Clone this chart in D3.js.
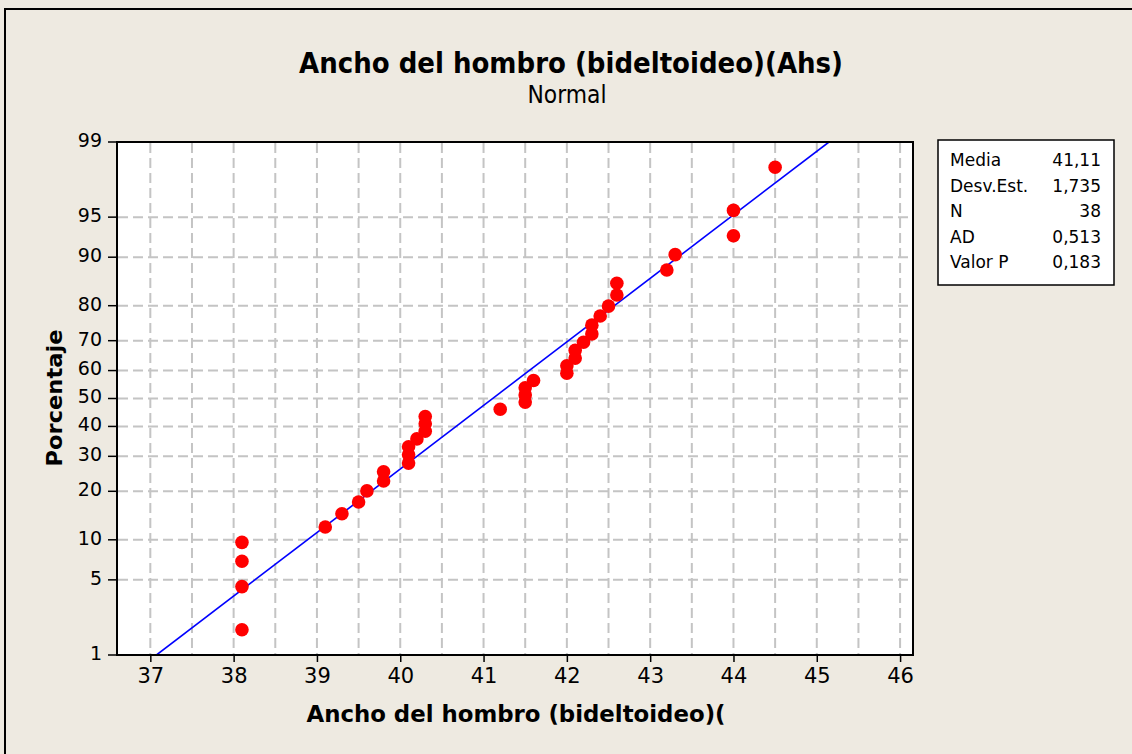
<!DOCTYPE html>
<html>
<head>
<meta charset="utf-8">
<script src="https://cdn.jsdelivr.net/npm/d3@7"></script>
<style>
  html, body { margin: 0; padding: 0; background: #EEEAE1; }
  svg { display: block; }
  text { font-family: "DejaVu Sans", Verdana, sans-serif; fill: #000; }
</style>
</head>
<body>
<svg id="chart" width="1132" height="754"></svg>
<script>
// ---- data ----
const xValues = [38.1, 38.1, 38.1, 38.1, 39.1, 39.3, 39.5, 39.6, 39.8, 39.8,
                 40.1, 40.1, 40.1, 40.2, 40.3, 40.3, 40.3, 41.2, 41.5, 41.5,
                 41.5, 41.6, 42.0, 42.0, 42.1, 42.1, 42.2, 42.3, 42.3, 42.4,
                 42.5, 42.6, 42.6, 43.2, 43.3, 44.0, 44.0, 44.5];
const pctValues = [1.8, 4.4, 7.0, 9.6, 12.2, 14.8, 17.4, 20.1, 22.7, 25.3,
                   27.9, 30.5, 33.1, 35.7, 38.3, 40.9, 43.5, 46.1, 48.7, 51.3,
                   53.9, 56.5, 59.1, 61.7, 64.3, 66.9, 69.5, 72.1, 74.7, 77.3,
                   79.9, 82.6, 85.2, 87.8, 90.4, 93.0, 95.6, 98.2];
const xTicks = [37, 38, 39, 40, 41, 42, 43, 44, 45, 46];
const yTicks = [1, 5, 10, 20, 30, 40, 50, 60, 70, 80, 90, 95, 99];
const statLabels = ["Media", "Desv.Est.", "N", "AD", "Valor P"];
const statValues = ["41,11", "1,735", "38", "0,513", "0,183"];
const fitMean = 41.11, fitSd = 1.735;
const titleText = "Ancho del hombro (bideltoideo)(Ahs)";
const subtitleText = "Normal";
const xLabelText = "Ancho del hombro (bideltoideo)(";
const yLabelText = "Porcentaje";

// ---- inverse normal CDF (probability scale) ----
function probit(p) {
  const a = [-3.969683028665376e+01, 2.209460984245205e+02, -2.759285104469687e+02, 1.383577518672690e+02, -3.066479806614716e+01, 2.506628277459239e+00];
  const b = [-5.447609879822406e+01, 1.615858368580409e+02, -1.556989798598866e+02, 6.680131188771972e+01, -1.328068155288572e+01];
  const c = [-7.784894002430293e-03, -3.223964580411365e-01, -2.400758277161838e+00, -2.549671834576114e+00, 4.374664141464968e+00, 2.938163982698783e+00];
  const d = [7.784695709041462e-03, 3.224671290700398e-01, 2.445134137142996e+00, 3.754408661907416e+00];
  const plow = 0.02425;
  let q, r;
  if (p < plow) {
    q = Math.sqrt(-2 * Math.log(p));
    return (((((c[0]*q+c[1])*q+c[2])*q+c[3])*q+c[4])*q+c[5]) / ((((d[0]*q+d[1])*q+d[2])*q+d[3])*q+1);
  } else if (p <= 1 - plow) {
    q = p - 0.5; r = q*q;
    return (((((a[0]*r+a[1])*r+a[2])*r+a[3])*r+a[4])*r+a[5])*q / (((((b[0]*r+b[1])*r+b[2])*r+b[3])*r+b[4])*r+1);
  } else {
    q = Math.sqrt(-2 * Math.log(1 - p));
    return -(((((c[0]*q+c[1])*q+c[2])*q+c[3])*q+c[4])*q+c[5]) / ((((d[0]*q+d[1])*q+d[2])*q+d[3])*q+1);
  }
}

// ---- layout ----
const L = 117, R = 913, T = 142, B = 655;
const svg = d3.select("#chart");

const x = d3.scaleLinear().domain([36.6, 46.155]).range([L, R]);
const zScale = d3.scaleLinear().domain([probit(0.01), probit(0.99)]).range([B, T]);
const y = pct => zScale(probit(pct / 100));

// outer frame
svg.append("rect").attr("x", 5).attr("y", 9).attr("width", 1140).attr("height", 760)
  .attr("fill", "#EEEAE1").attr("stroke", "#000").attr("stroke-width", 2);

// plot background
svg.append("rect").attr("x", L).attr("y", T).attr("width", R - L).attr("height", B - T)
  .attr("fill", "#fff");

const grid = svg.append("g").attr("stroke", "#C4C4C4").attr("stroke-width", 2)
  .attr("stroke-dasharray", "10,5");
// vertical grid every 0.5
const vGrid = d3.range(37, 46.01, 0.5);
grid.selectAll("line.v").data(vGrid).join("line")
  .attr("x1", d => x(d)).attr("x2", d => x(d)).attr("y1", T + 1).attr("y2", B - 1);
// horizontal grid
grid.selectAll("line.h").data(yTicks.filter(v => v > 1 && v < 99)).join("line")
  .attr("x1", L + 1).attr("x2", R - 1).attr("y1", d => y(d)).attr("y2", d => y(d));

// fitted line
svg.append("clipPath").attr("id", "pc").append("rect")
  .attr("x", L).attr("y", T).attr("width", R - L).attr("height", B - T);
const fitPcts = [1, 99];
svg.append("line")
  .attr("clip-path", "url(#pc)")
  .attr("x1", x(fitMean + probit(fitPcts[0] / 100) * fitSd)).attr("y1", y(fitPcts[0]))
  .attr("x2", x(fitMean + probit(fitPcts[1] / 100) * fitSd)).attr("y2", y(fitPcts[1]))
  .attr("stroke", "#0000FF").attr("stroke-width", 1.6);

// points
svg.append("g").selectAll("circle").data(xValues).join("circle")
  .attr("cx", d => x(d)).attr("cy", (d, i) => y(pctValues[i]))
  .attr("r", 6.8).attr("fill", "#FF0000");

// plot border
svg.append("rect").attr("x", L).attr("y", T).attr("width", R - L).attr("height", B - T)
  .attr("fill", "none").attr("stroke", "#000").attr("stroke-width", 2);

// x axis ticks
const xAxis = d3.axisBottom(x).tickValues(xTicks).tickSize(7).tickPadding(6).tickFormat(d3.format("d"));
const gx = svg.append("g").attr("transform", `translate(0,${B})`).call(xAxis);
gx.select(".domain").remove();
gx.selectAll(".tick line").attr("stroke", "#000").attr("stroke-width", 1.5);
gx.selectAll(".tick text").attr("font-family", "DejaVu Sans").attr("font-size", 21).attr("fill", "#000");

// y axis ticks
const gy = svg.append("g");
const yt = gy.selectAll("g").data(yTicks).join("g").attr("transform", d => `translate(0,${y(d)})`);
yt.append("line").attr("x1", L - 9).attr("x2", L).attr("stroke", "#000").attr("stroke-width", 1.5);
yt.append("text").attr("x", L - 15).attr("y", -2).attr("dy", "0.36em")
  .attr("text-anchor", "end").attr("font-size", 19).text(d => d);

// titles
svg.append("text").attr("x", 571).attr("y", 73).attr("text-anchor", "middle")
  .attr("font-size", 29).attr("font-weight", "bold")
  .attr("textLength", 544).attr("lengthAdjust", "spacingAndGlyphs").text(titleText);
svg.append("text").attr("x", 567).attr("y", 103).attr("text-anchor", "middle")
  .attr("font-size", 24)
  .attr("textLength", 79).attr("lengthAdjust", "spacingAndGlyphs").text(subtitleText);

// axis labels
svg.append("text").attr("x", (L + R) / 2 + 1).attr("y", 722).attr("text-anchor", "middle")
  .attr("font-size", 23).attr("font-weight", "bold")
  .attr("textLength", 419).attr("lengthAdjust", "spacingAndGlyphs").text(xLabelText);
svg.append("text").attr("transform", "translate(62,398) rotate(-90)").attr("text-anchor", "middle")
  .attr("font-size", 22).attr("font-weight", "bold")
  .attr("textLength", 137).attr("lengthAdjust", "spacingAndGlyphs").text(yLabelText);

// stats box
svg.append("rect").attr("x", 938).attr("y", 140).attr("width", 176).attr("height", 145)
  .attr("fill", "#fff").attr("stroke", "#000").attr("stroke-width", 1.5);
const rowY = d3.scalePoint().domain(statLabels).range([166, 268]);
const rows = svg.append("g").selectAll("g").data(statLabels).join("g");
rows.append("text").attr("x", 950).attr("y", d => rowY(d)).attr("font-size", 17).text(d => d);
rows.append("text").attr("x", 1101).attr("y", d => rowY(d)).attr("font-size", 17)
  .attr("text-anchor", "end").text((d, i) => statValues[i]);
</script>
</body>
</html>
